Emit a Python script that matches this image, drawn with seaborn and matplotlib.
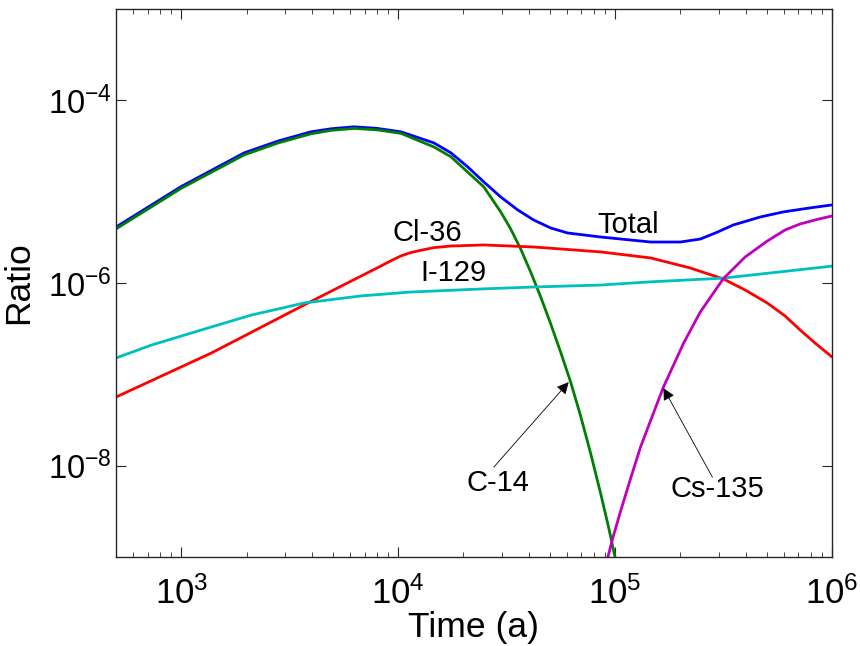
import pandas as pd
import seaborn as sns
import matplotlib.pyplot as plt
from matplotlib.ticker import LogLocator, FixedLocator, NullLocator, NullFormatter

# values (time in years, ratio)
total_t = [500, 1000, 1950, 2800, 3960, 4900, 6250, 8000, 10300, 14600, 17500, 20900,
           24800, 29700, 35600, 42100, 50500, 60400, 85700, 146000, 200000, 247000,
           290000, 351000, 467000, 596000, 792000, 1000000]
total = [4.1e-6, 1.14e-5, 2.66e-5, 3.59e-5, 4.52e-5, 4.88e-5, 5.13e-5, 4.93e-5, 4.52e-5,
         3.42e-5, 2.66e-5, 1.87e-5, 1.28e-5, 8.75e-6, 6.3e-6, 4.9e-6, 4.0e-6, 3.53e-6,
         3.19e-6, 2.81e-6, 2.81e-6, 3.03e-6, 3.53e-6, 4.32e-6, 5.28e-6, 6.0e-6, 6.64e-6,
         7.16e-6]

c14_t = [500, 1000, 1950, 2800, 3960, 4900, 6250, 8000, 10300, 14600, 17500, 20900, 24800,
         29700, 33000, 36700, 40800, 45400, 50500, 56100, 62400, 69400, 77100, 85700,
         93300, 100000, 108000]
c14 = [3.91e-6, 1.09e-5, 2.53e-5, 3.42e-5, 4.3e-5, 4.69e-5, 4.93e-5, 4.75e-5, 4.35e-5,
       3.09e-5, 2.41e-5, 1.64e-5, 1.13e-5, 6.0e-6, 3.91e-6, 2.36e-6, 1.32e-6, 7.03e-7,
       3.56e-7, 1.75e-7, 8.22e-8, 3.48e-8, 1.37e-8, 5.0e-9, 2.12e-9, 9.9e-10, 4.6e-10]

cl36_t = [500, 1375, 3680, 8300, 9300, 10300, 11400, 12700, 14600, 17500, 24800, 42100,
          85700, 146000, 222000, 315000, 398000, 503000, 608000, 713000, 836000, 1000000]
cl36 = [5.64e-8, 1.71e-7, 5.74e-7, 1.53e-6, 1.76e-6, 1.98e-6, 2.15e-6, 2.28e-6, 2.44e-6,
        2.54e-6, 2.61e-6, 2.48e-6, 2.19e-6, 1.88e-6, 1.46e-6, 1.11e-6, 8.38e-7, 6.04e-7,
        4.35e-7, 3.06e-7, 2.2e-7, 1.55e-7]

i129_t = [500, 728, 1375, 2100, 3680, 6700, 11400, 24000, 42100, 85700, 146000, 315000,
          570000, 1000000]
i129 = [1.51e-7, 2.09e-7, 3.30e-7, 4.45e-7, 6.04e-7, 7.21e-7, 7.96e-7, 8.6e-7, 9.04e-7,
        9.5e-7, 1.03e-6, 1.13e-6, 1.32e-6, 1.53e-6]

cs135_t = [89300, 98400, 106000, 118000, 131000, 146000, 167000, 207000, 247000, 315000,
           398000, 503000, 608000, 713000, 836000, 1000000]
cs135 = [7.2e-10, 1.73e-9, 3.17e-9, 7.29e-9, 1.6e-8, 3.15e-8, 7.24e-8, 2.2e-7, 4.81e-7,
         1.11e-6, 1.93e-6, 2.88e-6, 3.81e-6, 4.43e-6, 4.9e-6, 5.42e-6]

series = ['Total', 'C-14', 'Cl-36', 'I-129', 'Cs-135']
colors = {'Total': '#0000ff', 'C-14': '#008000', 'Cl-36': '#ff0000',
          'I-129': '#00bfbf', 'Cs-135': '#bf00bf'}

frames = []
for name, t, r in [('Total', total_t, total), ('C-14', c14_t, c14), ('Cl-36', cl36_t, cl36),
                   ('I-129', i129_t, i129), ('Cs-135', cs135_t, cs135)]:
    frames.append(pd.DataFrame({'time': t, 'ratio': r, 'nuclide': name}))
df = pd.concat(frames, ignore_index=True)

sns.set_style('ticks')
plt.rcParams['font.family'] = ['Liberation Sans', 'DejaVu Sans']
plt.rcParams['mathtext.fontset'] = 'custom'
plt.rcParams['mathtext.rm'] = 'Liberation Sans'
plt.rcParams['mathtext.it'] = 'Liberation Sans:italic'
plt.rcParams['axes.unicode_minus'] = False

fig = plt.figure(figsize=(8.6, 6.46), dpi=100)
ax = fig.add_axes([116 / 860, 1 - 557 / 646, 716 / 860, 548 / 646])

sns.lineplot(data=df, x='time', y='ratio', hue='nuclide', hue_order=series,
             palette=colors, estimator=None, sort=False, linewidth=2.0,
             legend=False, ax=ax)

ax.set_xscale('log')
ax.set_yscale('log')
ax.set_xlim(500, 1e6)
ax.set_ylim(1e-9, 1e-3)

ax.xaxis.set_major_locator(LogLocator(base=10, numticks=10))
ax.xaxis.set_minor_locator(LogLocator(base=10, subs=range(2, 10), numticks=20))
ax.xaxis.set_minor_formatter(NullFormatter())
ax.yaxis.set_major_locator(FixedLocator([1e-8, 1e-6, 1e-4]))
ax.yaxis.set_minor_locator(NullLocator())

ax.tick_params(which='both', direction='in', top=True, right=True,
               color='#262626', labelcolor='black')
ax.tick_params(which='major', length=7, width=0.8)
ax.tick_params(axis='x', which='major', pad=14, labelsize=25)
ax.tick_params(axis='y', which='major', pad=3, labelsize=23.5)
ax.tick_params(which='minor', length=3.5, width=0.6)
for s in ax.spines.values():
    s.set_color('#262626')
    s.set_linewidth(1.0)

ax.set_xlabel('Time (a)', fontsize=25.5, labelpad=0, color='black')
ax.set_ylabel('Ratio', fontsize=25.5, labelpad=9, color='black')

lab_kw = dict(fontsize=21, ha='center', va='center', color='black')
ax.text(1.36e4, 3.53e-6, 'Cl-36', **lab_kw)
ax.text(1.79e4, 1.29e-6, 'I-129', **lab_kw)
ax.text(1.15e5, 4.32e-6, 'Total', **lab_kw)
ax.text(2.88e4, 6.43e-9, 'C-14', **lab_kw)
ax.text(2.96e5, 5.52e-9, 'Cs-135', **lab_kw)

arrow_kw = dict(arrowstyle='-|>', color='black', lw=0.6, mutation_scale=18,
                shrinkA=0, shrinkB=0)
ax.annotate('', xy=(6.11e4, 8.22e-8), xytext=(2.76e4, 9.64e-9), arrowprops=arrow_kw)
ax.annotate('', xy=(1.67e5, 7.06e-8), xytext=(2.81e5, 7.48e-9), arrowprops=arrow_kw)

fig.savefig('out.png', dpi=100)
